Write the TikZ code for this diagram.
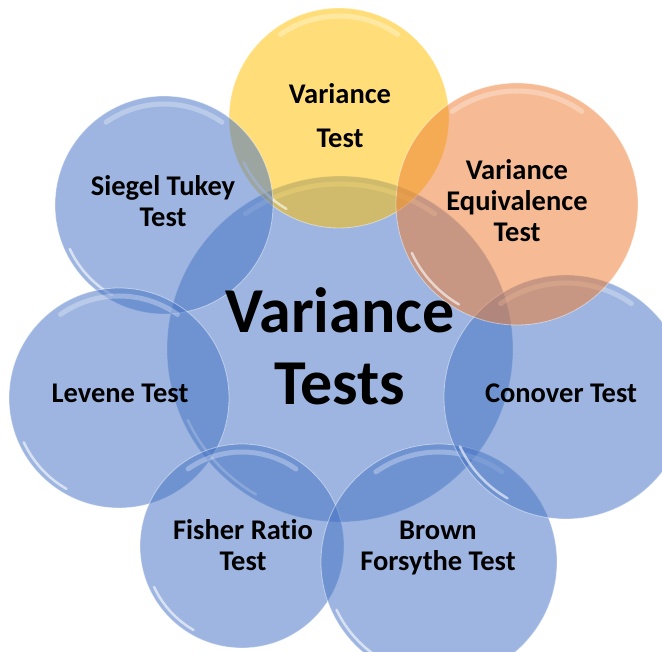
\documentclass[tikz,border=0pt]{standalone}
\usepackage{fontspec}
\setmainfont{Carlito}[Ligatures=NoCommon]
\usepackage{xcolor}
\usetikzlibrary{positioning}

\definecolor{bubbleblue}{RGB}{68,114,196}
\definecolor{bubbleyellow}{RGB}{255,192,0}
\definecolor{bubbleorange}{RGB}{237,125,49}

\begin{document}
\begin{tikzpicture}[
  x=1pt,y=1pt,
  bubble/.style={circle,inner sep=0pt,fill opacity=.52,draw=white,
    draw opacity=.45,line width=.8pt},
  shine/.style={white,line width=5pt,opacity=.3,line cap=round},
  glint/.style={white,line width=2.5pt,opacity=.6,line cap=round},
  lbl/.style={font=\bfseries\fontsize{28.5}{31}\selectfont,align=center,text=black}
]
\useasboundingbox (0,0) rectangle (662,652);
% bubbles: name/x/y/radius/colour
\foreach \nm/\cx/\cy/\r/\col in {
    hub/340/303/173/bubbleblue,
    vartest/339/534/110/bubbleyellow,
    siegel/164/447/109/bubbleblue,
    levene/119/254/110/bubbleblue,
    fisher/242/106/102/bubbleblue,
    brown/439/90/118/bubbleblue,
    conover/566/255/122/bubbleblue,
    equiv/517/448/121/bubbleorange}{
  \node[bubble,fill=\col,minimum size=2*\r*1pt] (\nm) at (\cx,\cy) {};
  \draw[shine] (\cx,\cy) ++(55:\r-8) arc[start angle=55,end angle=125,radius=\r-8];
  \draw[glint] (\cx,\cy) ++(205:\r-5) arc[start angle=205,end angle=240,radius=\r-5];
}
% labels
\node[lbl,font=\bfseries\fontsize{64}{72}\selectfont] (hubT) at (340,306) {Variance\\Tests};
\node[lbl,font=\bfseries\fontsize{28.5}{44}\selectfont] (vartestT) at (340,536) {Variance\\Test};
\node[lbl] (equivT) at (517,451) {Variance\\Equivalence\\Test};
\node[lbl] (siegelT) at (163,451) {Siegel Tukey\\Test};
\node[lbl] (leveneT) at (120,259) {Levene Test};
\node[lbl] (conoverT) at (561,259) {Conover Test};
\node[lbl] (fisherT) at (243,107) {Fisher Ratio\\Test};
\node[lbl] (brownT) at (438,104) {Brown\\Forsythe Test};
\end{tikzpicture}
\end{document}
